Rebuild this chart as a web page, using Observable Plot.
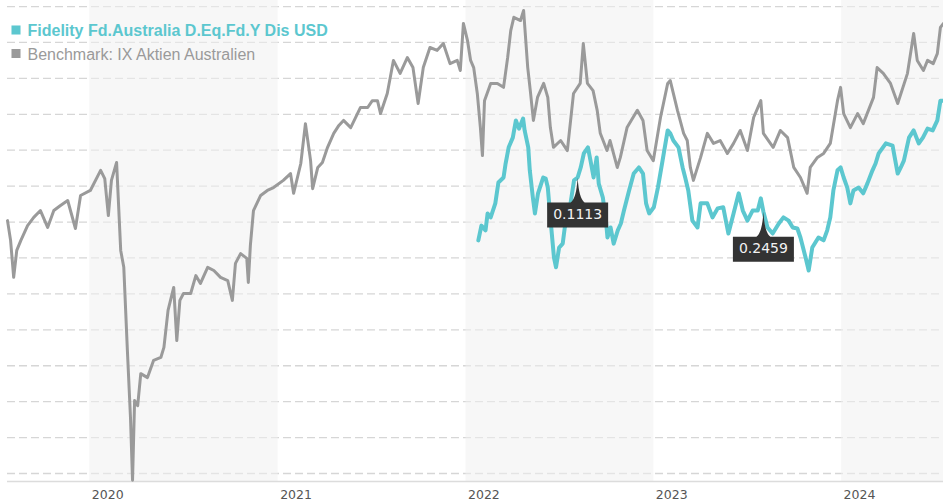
<!DOCTYPE html>
<html>
<head>
<meta charset="utf-8">
<script src="https://cdn.jsdelivr.net/npm/d3@7"></script>
<script src="https://cdn.jsdelivr.net/npm/@observablehq/plot@0.6"></script>
<style>
  html, body { margin: 0; padding: 0; background: #fff; overflow: hidden; }
  svg { display: block; }
</style>
</head>
<body>
<div id="chart"></div>
<script>
// ---- Series names ----
const seriesNames = ["Fidelity Fd.Australia D.Eq.Fd.Y Dis USD", "Benchmark: IX Aktien Australien"];
const seriesColors = ["#5cc7cf", "#9a9a9a"];

// ---- Benchmark (gray) ----
const benchDates = [
"2019-07-25","2019-07-31","2019-08-06","2019-08-12","2019-08-20","2019-09-02","2019-09-14","2019-09-27","2019-10-11","2019-10-23",
"2019-11-05","2019-11-19","2019-12-04","2019-12-14","2020-01-02","2020-01-22","2020-01-30","2020-02-06","2020-02-12","2020-02-22",
"2020-03-01","2020-03-07","2020-03-14","2020-03-20","2020-03-24","2020-03-28","2020-04-03","2020-04-09","2020-04-22","2020-05-04",
"2020-05-18","2020-05-24","2020-06-01","2020-06-12","2020-06-18","2020-06-24","2020-07-01","2020-07-15","2020-07-25","2020-08-03",
"2020-08-17","2020-08-29","2020-09-11","2020-09-25","2020-10-04","2020-10-10","2020-10-20","2020-11-01","2020-11-04","2020-11-08",
"2020-11-14","2020-11-28","2020-12-11","2020-12-23","2021-01-11","2021-01-25","2021-01-31","2021-02-14","2021-02-23","2021-03-05",
"2021-03-09","2021-03-19","2021-03-28","2021-04-07","2021-04-19","2021-04-29","2021-05-08","2021-05-22","2021-06-10","2021-06-24",
"2021-07-03","2021-07-13","2021-07-19","2021-08-01","2021-08-13","2021-08-26","2021-09-09","2021-09-20","2021-09-30","2021-10-10",
"2021-10-23","2021-11-06","2021-11-18","2021-12-01","2021-12-15","2021-12-21","2021-12-27","2022-01-04","2022-01-10","2022-01-16",
"2022-01-23","2022-01-29","2022-02-02","2022-02-06","2022-02-18","2022-03-03","2022-03-15","2022-03-23","2022-03-29","2022-04-04",
"2022-04-17","2022-04-23","2022-05-01","2022-05-06","2022-05-12","2022-05-20","2022-06-01","2022-06-09","2022-06-14","2022-06-20",
"2022-07-04","2022-07-17","2022-07-29","2022-08-11","2022-08-17","2022-08-25","2022-09-05","2022-09-13","2022-09-19","2022-10-02",
"2022-10-08","2022-10-22","2022-10-28","2022-11-10","2022-11-30","2022-12-11","2022-12-19","2022-12-31","2023-01-14","2023-01-28",
"2023-02-02","2023-02-08","2023-02-16","2023-02-28","2023-03-07","2023-03-13","2023-03-19","2023-04-02","2023-04-15","2023-04-27",
"2023-05-10","2023-05-24","2023-06-05","2023-06-18","2023-07-02","2023-07-14","2023-07-28","2023-08-02","2023-08-21","2023-09-04",
"2023-09-18","2023-09-30","2023-10-13","2023-10-26","2023-11-01","2023-11-15","2023-11-27","2023-12-10","2023-12-24","2023-12-30",
"2024-01-05","2024-01-18","2024-02-01","2024-02-12","2024-03-03","2024-03-10","2024-03-22","2024-04-05","2024-04-19","2024-05-08",
"2024-05-20","2024-05-27","2024-06-08","2024-06-16","2024-06-27","2024-07-05","2024-07-11","2024-07-17"];
const benchValues = [
70.4,64.9,54.6,62.1,64.9,69.0,71.3,73.2,68.5,73.2,
74.6,76.0,68.2,77.4,78.8,84.4,82.1,71.8,81.6,86.6,
62.1,57.4,34.2,15.6,-1.9,20.3,18.9,27.8,26.7,31.5,
32.3,35.1,45.4,51.8,37.0,48.2,50.1,50.1,55.1,52.9,
57.4,56.5,54.6,53.7,48.2,58.5,61.2,59.9,53.2,63.5,
73.2,77.4,78.8,79.6,81.6,83.5,78.0,86.3,97.4,87.1,
79.3,85.2,86.6,90.8,94.7,96.9,98.3,96.3,101.9,101.9,
103.8,103.8,100.2,105.8,115.0,111.4,115.8,113.0,103.0,113.0,
118.6,117.8,119.7,114.1,115.0,112.2,125.3,120.5,115.0,113.0,
105.8,96.3,88.5,103.8,108.6,108.6,107.5,115.8,123.3,127.0,
126.1,128.9,113.0,106.6,98.3,104.7,108.6,104.7,96.3,90.8,
92.7,89.9,105.8,108.6,119.7,108.6,106.6,101.1,94.7,89.9,
92.7,85.2,88.0,96.3,101.1,98.3,89.9,87.1,99.1,108.6,
109.4,105.8,101.1,94.7,92.7,85.2,81.6,88.0,94.7,91.9,
92.7,89.1,91.9,95.5,89.9,99.1,103.8,94.7,90.8,95.5,
93.5,85.2,82.4,78.0,85.2,88.0,89.1,91.9,103.8,107.5,
100.2,96.3,100.2,97.4,104.7,113.0,111.4,108.6,103.0,111.4,
122.5,115.0,112.2,115.0,114.1,116.9,124.2,125.3];

// ---- Fund (teal) ----
const fundDates = [
"2022-01-25","2022-01-31","2022-02-08","2022-02-12","2022-02-18","2022-02-27","2022-03-05","2022-03-15","2022-03-19","2022-03-25",
"2022-04-02","2022-04-08","2022-04-14","2022-04-22","2022-04-25","2022-05-02","2022-05-05","2022-05-11","2022-05-15","2022-05-21",
"2022-05-31","2022-06-05","2022-06-09","2022-06-15","2022-06-21","2022-06-25","2022-07-01","2022-07-08","2022-07-12","2022-07-18",
"2022-07-24","2022-07-30","2022-08-06","2022-08-12","2022-08-18","2022-08-26","2022-08-31","2022-09-06","2022-09-12","2022-09-16",
"2022-09-24","2022-09-30","2022-10-03","2022-10-09","2022-10-15","2022-10-23","2022-10-29","2022-11-04","2022-11-14","2022-11-23",
"2022-12-03","2022-12-11","2022-12-17","2022-12-23","2023-01-01","2023-01-09","2023-01-18","2023-01-28","2023-02-02","2023-02-08",
"2023-02-18","2023-02-26","2023-03-03","2023-03-09","2023-03-17","2023-03-27","2023-04-02","2023-04-15","2023-04-25","2023-05-05",
"2023-05-16","2023-05-26","2023-06-05","2023-06-15","2023-06-23","2023-07-02","2023-07-12","2023-07-22","2023-07-28","2023-08-02",
"2023-08-10","2023-08-20","2023-09-01","2023-09-10","2023-09-20","2023-09-28","2023-10-07","2023-10-13","2023-10-23","2023-10-29",
"2023-11-05","2023-11-17","2023-11-27","2023-12-04","2023-12-10","2023-12-16","2023-12-24","2023-12-30","2024-01-05","2024-01-12",
"2024-01-18","2024-01-24","2024-02-03","2024-02-12","2024-02-20","2024-03-01","2024-03-07","2024-03-13","2024-03-27","2024-04-09",
"2024-04-19","2024-04-25","2024-05-01","2024-05-11","2024-05-20","2024-05-30","2024-06-07","2024-06-16","2024-06-26","2024-07-05",
"2024-07-11","2024-07-17"];
const fundValues = [
64.9,69.0,67.7,72.4,71.3,75.2,81.0,82.4,86.3,90.8,
93.5,98.3,96.0,98.8,95.5,90.8,84.4,76.8,72.4,78.0,
82.4,82.1,79.6,69.6,60.1,57.4,62.9,64.0,68.5,70.4,
76.0,81.6,82.4,85.2,89.1,90.8,87.1,82.4,88.0,80.7,
76.8,70.4,65.7,68.5,64.0,67.7,69.6,73.2,78.8,83.5,
85.2,83.5,75.2,72.4,74.1,79.6,87.1,95.5,94.7,92.7,
90.8,85.2,82.4,78.8,70.4,68.5,75.2,75.2,71.3,73.8,
74.1,66.8,72.4,78.0,73.2,70.4,73.2,73.2,76.6,72.9,
68.5,66.8,69.6,71.3,70.4,68.5,68.2,65.7,60.1,56.5,
62.9,65.7,64.9,67.7,71.3,78.8,84.4,85.2,82.4,79.6,
75.2,78.8,79.6,78.0,80.7,84.4,86.3,89.1,91.9,91.3,
83.5,85.2,87.1,93.5,95.5,91.9,93.5,96.0,95.5,98.3,
103.8,103.8];

// ---- Annotations ----
const annotationDates = ["2022-08-06", "2023-08-02"];
const annotationValues = [82.4, 72.9];
const annotationLabels = ["0.1113", "0.2459"];

// ---- Axis / layout data ----
const tickDates = ["2020-01-01","2021-01-01","2022-01-01","2023-01-01","2024-01-01"];
const tickLabels = ["2020","2021","2022","2023","2024"];
const shadedStarts = ["2020-01-01","2022-01-01","2024-01-01"];
const shadedEnds = ["2021-01-01","2023-01-01","2024-07-17"];
const gridValues = [0,10,20,30,40,50,60,70,80,90,100,110,120,130];
const xDomain = ["2019-07-25","2024-07-17"];
const yDomain = [-2.23, 131.68];

// ---- Build tables ----
const bench = benchDates.map((d, i) => ({date: new Date(d), value: benchValues[i]}));
const fund = fundDates.map((d, i) => ({date: new Date(d), value: fundValues[i]}));
const ticks = tickDates.map((d, i) => ({date: new Date(d), label: tickLabels[i]}));
const bands = shadedStarts.map((d, i) => ({start: new Date(d), end: new Date(shadedEnds[i])}));
const notes = annotationDates.map((d, i) => ({date: new Date(d), value: annotationValues[i], label: annotationLabels[i]}));

// Callout shape (pointer + box), drawn in pixels relative to the point
const callout = {
  draw(ctx) {
    ctx.moveTo(0, 0);
    ctx.quadraticCurveTo(1.2, 21, 7, 25);
    ctx.lineTo(30.5, 25);
    ctx.lineTo(30.5, 50);
    ctx.lineTo(-30.5, 50);
    ctx.lineTo(-30.5, 25);
    ctx.lineTo(-7, 25);
    ctx.quadraticCurveTo(-1.2, 21, 0, 0);
    ctx.closePath();
  }
};

const chart = Plot.plot({
  width: 943,
  height: 500,
  marginLeft: 7,
  marginRight: 0,
  marginTop: 0,
  marginBottom: 19,
  style: {background: "#fff", overflow: "visible"},
  x: {type: "utc", domain: xDomain.map(d => new Date(d)), axis: null},
  y: {domain: yDomain, axis: null},
  marks: [
    Plot.ruleY(gridValues, {stroke: "#d6d6d6", strokeWidth: 1.3, strokeDasharray: "8,4"}),
    Plot.rect(bands, {x1: "start", x2: "end", fill: "#f1f1f1", fillOpacity: 0.55}),
    Plot.ruleY([yDomain[0]], {stroke: "#dcdcdc", strokeWidth: 1.5}),
    Plot.text(ticks, {x: "date", text: "label", frameAnchor: "bottom", textAnchor: "start", dx: 2, dy: 13,
      fontFamily: "DejaVu Sans, Verdana, sans-serif", fontSize: 12.5, fill: "#555", lineAnchor: "middle"}),
    Plot.line(bench, {x: "date", y: "value", stroke: seriesColors[1], strokeWidth: 3, strokeLinejoin: "round"}),
    Plot.line(fund, {x: "date", y: "value", stroke: seriesColors[0], strokeWidth: 4, strokeLinejoin: "round"}),
    Plot.dot(notes, {x: "date", y: "value", symbol: callout, r: 5, fill: "#333", stroke: null}),
    Plot.text(notes, {x: "date", y: "value", text: "label", dy: 37, fill: "#f2f2f2",
      fontFamily: "DejaVu Sans, Verdana, sans-serif", fontSize: 14}),
    // Legend
    Plot.dot([seriesNames[0]], {frameAnchor: "top-left", dx: 8.5, dy: 29.5, symbol: "square", r: 5.1, fill: seriesColors[0], stroke: null}),
    Plot.text([seriesNames[0]], {frameAnchor: "top-left", text: d => d, dx: 20, dy: 30, textAnchor: "start", lineAnchor: "middle",
      fontFamily: "Liberation Sans, Arial, sans-serif", fontWeight: "bold", fontSize: 16, fill: seriesColors[0]}),
    Plot.dot([seriesNames[1]], {frameAnchor: "top-left", dx: 8.5, dy: 53, symbol: "square", r: 5.1, fill: seriesColors[1], stroke: null}),
    Plot.text([seriesNames[1]], {frameAnchor: "top-left", text: d => d, dx: 20, dy: 54, textAnchor: "start", lineAnchor: "middle",
      fontFamily: "Liberation Sans, Arial, sans-serif", fontSize: 16, fill: seriesColors[1]})
  ]
});
document.getElementById("chart").appendChild(chart);
</script>
</body>
</html>
